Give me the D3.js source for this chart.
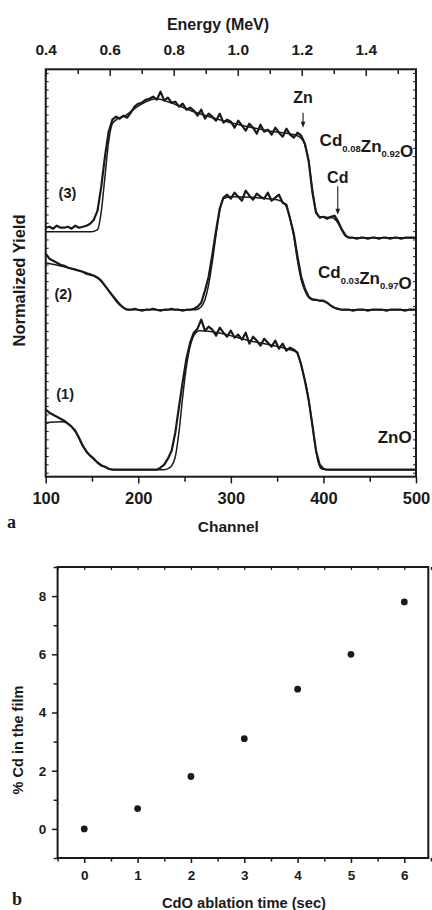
<!DOCTYPE html>
<html>
<head>
<meta charset="utf-8">
<script src="https://cdnjs.cloudflare.com/ajax/libs/d3/7.8.5/d3.min.js"></script>
<style>
  body { margin: 0; background: #fff; }
  svg text { font-family: "Liberation Sans", Arial, Helvetica, sans-serif; font-weight: bold; fill: #1a1a1a; }
  .domain { display: none; }
  .tick line { stroke: #1a1a1a; stroke-width: 1.5; }
</style>
</head>
<body>
<svg id="fig" width="432" height="910"></svg>
<script>
// ! Data - panel a, RBS spectra read every 4 channels starting at channel 100
var channel_start = 100,
    channel_step = 4;

// (3) Cd0.08Zn0.92O measured
var cd08_data = [
  249, 250, 248, 251, 249, 249, 250, 248, 251, 249,
  250, 251, 253, 257, 266, 290, 320, 345, 357, 360,
  358, 361, 359, 364, 370, 373, 374, 377, 378, 380,
  377, 385, 376, 379, 374, 375, 370, 373, 367, 369,
  366, 361, 367, 358, 363, 360, 356, 363, 354, 357,
  355, 349, 356, 351, 346, 353, 349, 343, 352, 345,
  347, 342, 349, 344, 340, 348, 342, 339, 344, 341,
  333, 316, 285, 264, 259, 260, 258, 260, 261, 255,
  247, 241, 239, 239, 238, 239, 239, 238, 239, 239,
  238, 239, 239, 238, 239, 239, 238, 239, 239, 239,
  239];

// (2) Cd0.03Zn0.97O measured
var cd03_data = [
  223, 218, 216, 214, 212, 211, 209, 208, 207, 206,
  205, 203, 202, 201, 199, 196, 191, 186, 181, 176,
  172, 169, 167, 167, 168, 167, 166, 167, 167, 168,
  167, 166, 167, 167, 168, 167, 167, 166, 167, 167,
  168, 170, 174, 186, 200, 222, 246, 268, 279, 282,
  278, 284, 280, 276, 286, 281, 277, 283, 280, 278,
  284, 276, 279, 282, 274, 272, 258, 243, 220, 200,
  188, 180, 177, 177, 176, 176, 174, 171, 169, 168,
  167, 167, 167, 166, 167, 167, 167, 166, 167, 167,
  167, 167, 166, 167, 167, 167, 167, 166, 167, 167,
  167];

// (1) ZnO measured
var zno_data = [
  67, 64, 62, 60, 58, 56, 53, 50, 46, 39,
  31, 25, 21, 18, 14, 11, 10, 8, 7, 7,
  7, 7, 7, 7, 7, 7, 7, 7, 7, 7,
  7, 9, 12, 18, 26, 44, 70, 95, 118, 134,
  144, 148, 157, 146, 150, 147, 141, 149, 144, 140,
  146, 139, 142, 137, 144, 133, 140, 136, 131, 138,
  134, 130, 136, 128, 133, 126, 129, 127, 124, 112,
  96, 77, 52, 26, 12, 8, 7, 7, 7, 7,
  7, 7, 7, 7, 7, 7, 7, 7, 7, 7,
  7, 7, 7, 7, 7, 7, 7, 7, 7, 7,
  7];

// simulations: [channel, yield]
var cd08_sim = [[100,245],[150,245],[156,247],[160,265],[164,300],[168,335],[172,353],[178,358],
  [186,361],[196,368],[208,375],[220,378],[232,375],[260,365],[300,354],[340,346],[372,341],
  [378,336],[384,316],[388,288],[392,266],[396,260],[410,259],[414,256],[418,250],[422,243],
  [428,239],[500,239]];
var cd03_sim = [[100,214],[120,210],[140,205],[156,199],[162,193],[170,184],[178,175],[184,169],
  [190,167],[262,167],[268,170],[272,177],[276,192],[280,215],[284,242],[288,266],[292,278],
  [300,280],[350,277],[358,273],[364,258],[368,240],[372,216],[376,197],[380,186],[386,178],
  [396,176],[402,175],[408,171],[414,168],[420,167],[500,167]];
var zno_sim = [[100,54],[118,55],[124,53],[132,45],[140,31],[150,19],[160,12],[168,8],[175,7],
  [228,7],[234,9],[240,20],[244,45],[248,80],[252,110],[256,130],[260,141],[266,146],[280,145],
  [320,136],[360,128],[370,125],[374,118],[378,104],[382,88],[386,65],[390,38],[394,16],
  [398,8],[404,7],[500,7]];

var channel_ticks = [100, 200, 300, 400, 500];
var channel_minor = [150, 250, 350, 450];
var energy_ticks = [0.4, 0.6, 0.8, 1.0, 1.2, 1.4];
var energy_minor = [0.5, 0.7, 0.9, 1.1, 1.3, 1.5];

// ! Data - panel b
var ablation_time = [0, 1, 2, 3, 4, 5, 6];
var cd_percent = [0, 0.7, 1.8, 3.1, 4.8, 6.0, 7.8];
var time_ticks = [0, 1, 2, 3, 4, 5, 6];
var time_minor = [-0.5, 0.5, 1.5, 2.5, 3.5, 4.5, 5.5, 6.5];
var pct_ticks = [0, 2, 4, 6, 8];
var pct_minor = [-1, 1, 3, 5, 7, 9];

var svg = d3.select("#fig");
var ink = "#1a1a1a";

// ! Panel a
var a_left = 45.7, a_right = 416, a_top = 69.3, a_bottom = 476.7;

var x_channel = d3.scaleLinear().domain([100, 500]).range([a_left, a_right]);
var x_energy = d3.scaleLinear().domain([0.4, 1.557]).range([a_left, a_right]);
var y_yield = d3.scaleLinear().domain([0, 407.4]).range([a_bottom, a_top]);

svg.append("defs").append("clipPath").attr("id", "clip_a")
  .append("rect").attr("x", a_left).attr("y", a_top)
  .attr("width", a_right - a_left).attr("height", a_bottom - a_top);

var line_a = d3.line()
  .x(function(d) { return x_channel(d[0]); })
  .y(function(d) { return y_yield(d[1]); });

var line_sim = d3.line()
  .curve(d3.curveMonotoneX)
  .x(function(d) { return x_channel(d[0]); })
  .y(function(d) { return y_yield(d[1]); });

function to_points(values) {
  return values.map(function(v, i) { return [channel_start + i * channel_step, v]; });
}

var plot_a = svg.append("g").attr("clip-path", "url(#clip_a)");

[cd08_sim, cd03_sim, zno_sim].forEach(function(s) {
  plot_a.append("path").datum(s)
    .attr("d", line_sim)
    .attr("fill", "none").attr("stroke", ink).attr("stroke-width", 1.5);
});

[cd08_data, cd03_data, zno_data].forEach(function(s) {
  plot_a.append("path").datum(to_points(s))
    .attr("d", line_a)
    .attr("fill", "none").attr("stroke", ink).attr("stroke-width", 2.2)
    .attr("stroke-linejoin", "round");
});

// axes panel a
svg.append("g")
  .attr("transform", "translate(0," + a_bottom + ")")
  .call(d3.axisBottom(x_channel).tickValues(channel_ticks).tickSize(6.7).tickPadding(8.7))
  .call(function(g) { g.selectAll("text").style("font-size", "16.5px"); });

svg.append("g")
  .attr("transform", "translate(0," + a_bottom + ")")
  .call(d3.axisBottom(x_channel).tickValues(channel_minor).tickSize(5).tickFormat(""));

svg.append("g")
  .attr("transform", "translate(0," + a_top + ")")
  .call(d3.axisTop(x_energy).tickValues(energy_ticks).tickSize(-6.7).tickPadding(14)
    .tickFormat(d3.format(".1f")))
  .call(function(g) { g.selectAll("text").style("font-size", "15.5px"); });

svg.append("g")
  .attr("transform", "translate(0," + a_top + ")")
  .call(d3.axisTop(x_energy).tickValues(energy_minor).tickSize(-4.7).tickFormat(""));

var yield_ticks = d3.range(4, 407, 8.33);
svg.append("g")
  .attr("transform", "translate(" + a_left + ",0)")
  .call(d3.axisLeft(y_yield).tickValues(yield_ticks).tickSize(-3).tickFormat(""))
  .selectAll("line").style("stroke-width", 1);
svg.append("g")
  .attr("transform", "translate(" + a_right + ",0)")
  .call(d3.axisRight(y_yield).tickValues(yield_ticks).tickSize(-3).tickFormat(""))
  .selectAll("line").style("stroke-width", 1);

svg.append("rect")
  .attr("x", a_left).attr("y", a_top)
  .attr("width", a_right - a_left).attr("height", a_bottom - a_top)
  .attr("fill", "none").attr("stroke", ink).attr("stroke-width", 2);

svg.append("text").attr("x", 218).attr("y", 29.5)
  .attr("text-anchor", "middle").style("font-size", "16px").text("Energy (MeV)");

svg.append("text").attr("x", 228.3).attr("y", 531.5)
  .attr("text-anchor", "middle").style("font-size", "15.5px").text("Channel");

svg.append("text")
  .attr("transform", "translate(25,280.5) rotate(-90)")
  .attr("text-anchor", "middle").style("font-size", "16.5px").text("Normalized Yield");

svg.append("text").attr("x", 7).attr("y", 528)
  .style("font-family", "'Liberation Serif', 'DejaVu Serif', serif")
  .style("font-size", "18px").text("a");

// curve numbers
var curve_labels = [
  { text: "(3)", ch: 123.5, yld: 279 },
  { text: "(2)", ch: 119, yld: 178 },
  { text: "(1)", ch: 121, yld: 78 }
];
curve_labels.forEach(function(d) {
  svg.append("text")
    .attr("x", x_channel(d.ch)).attr("y", y_yield(d.yld))
    .attr("text-anchor", "middle").style("font-size", "14.5px").text(d.text);
});

// compositions
function formula(x, y, parts) {
  var t = svg.append("text").attr("x", x).attr("y", y)
    .attr("text-anchor", "end").style("font-size", "17px");
  parts.forEach(function(p) {
    if (p.sub) {
      t.append("tspan").attr("dy", 5.5).style("font-size", "9.5px").text(p.sub);
      t.append("tspan").attr("dy", -5.5).text("");
    } else {
      t.append("tspan").text(p.txt);
    }
  });
}
formula(x_channel(500) - 2.7, y_yield(330.3),
  [{ txt: "Cd" }, { sub: "0.08" }, { txt: "Zn" }, { sub: "0.92" }, { txt: "O" }]);
formula(x_channel(500) - 4.3, y_yield(198.7),
  [{ txt: "Cd" }, { sub: "0.03" }, { txt: "Zn" }, { sub: "0.97" }, { txt: "O" }]);
formula(x_channel(500) - 4.3, y_yield(34),
  [{ txt: "ZnO" }]);

// element edge markers
var edge_marks = [
  { text: "Zn", ch: 378, label_yld: 373.7, from: 364, to: 349 },
  { text: "Cd", ch: 415.5, label_yld: 293.7, from: 290.5, to: 262 }
];
edge_marks.forEach(function(d) {
  var ex = x_channel(d.ch);
  svg.append("text").attr("x", ex).attr("y", y_yield(d.label_yld))
    .attr("text-anchor", "middle").style("font-size", "16px").text(d.text);
  svg.append("line")
    .attr("x1", ex).attr("x2", ex)
    .attr("y1", y_yield(d.from)).attr("y2", y_yield(d.to) - 5)
    .attr("stroke", ink).attr("stroke-width", 1.1);
  var ty = y_yield(d.to);
  svg.append("path")
    .attr("d", "M" + (ex - 2.3) + "," + (ty - 6) + "L" + (ex + 2.3) + "," + (ty - 6) + "L" + ex + "," + ty + "Z")
    .attr("fill", ink);
});

// ! Panel b
var b_left = 57.6, b_right = 428.3, b_top = 567, b_bottom = 858;

var x_time = d3.scaleLinear().domain([-0.5, 6.45]).range([b_left, b_right]);
var y_pct = d3.scaleLinear().domain([-1, 9]).range([b_bottom, b_top]);

svg.append("g")
  .attr("transform", "translate(0," + b_bottom + ")")
  .call(d3.axisBottom(x_time).tickValues(time_ticks).tickSize(5).tickPadding(7.6)
    .tickFormat(d3.format("d")))
  .call(function(g) { g.selectAll("text").style("font-size", "13.5px"); });
svg.append("g")
  .attr("transform", "translate(0," + b_bottom + ")")
  .call(d3.axisBottom(x_time).tickValues(time_minor).tickSize(3.5).tickFormat(""));

svg.append("g")
  .attr("transform", "translate(0," + b_top + ")")
  .call(d3.axisTop(x_time).tickValues(time_ticks.concat(time_minor)).tickSize(-3).tickFormat(""))
  .selectAll("line").style("stroke-width", 1.2);

svg.append("g")
  .attr("transform", "translate(" + b_left + ",0)")
  .call(d3.axisLeft(y_pct).tickValues(pct_ticks).tickSize(5.7).tickPadding(5.6)
    .tickFormat(d3.format("d")))
  .call(function(g) { g.selectAll("text").style("font-size", "13.5px"); });
svg.append("g")
  .attr("transform", "translate(" + b_left + ",0)")
  .call(d3.axisLeft(y_pct).tickValues(pct_minor).tickSize(4).tickFormat(""));

svg.append("rect")
  .attr("x", b_left).attr("y", b_top)
  .attr("width", b_right - b_left).attr("height", b_bottom - b_top)
  .attr("fill", "none").attr("stroke", ink).attr("stroke-width", 2);

svg.selectAll("circle.cd")
  .data(ablation_time)
  .enter()
  .append("circle")
  .attr("class", "cd")
  .attr("cx", function(d) { return x_time(d); })
  .attr("cy", function(d, i) { return y_pct(cd_percent[i]); })
  .attr("r", 3.4)
  .attr("fill", ink);

svg.append("text").attr("x", 244).attr("y", 908)
  .attr("text-anchor", "middle").style("font-size", "14.7px").text("CdO ablation time (sec)");

svg.append("text")
  .attr("transform", "translate(23,740) rotate(-90)")
  .attr("text-anchor", "middle").style("font-size", "14.5px").text("% Cd in the film");

svg.append("text").attr("x", 12).attr("y", 905)
  .style("font-family", "'Liberation Serif', 'DejaVu Serif', serif")
  .style("font-size", "18px").text("b");
</script>
</body>
</html>
